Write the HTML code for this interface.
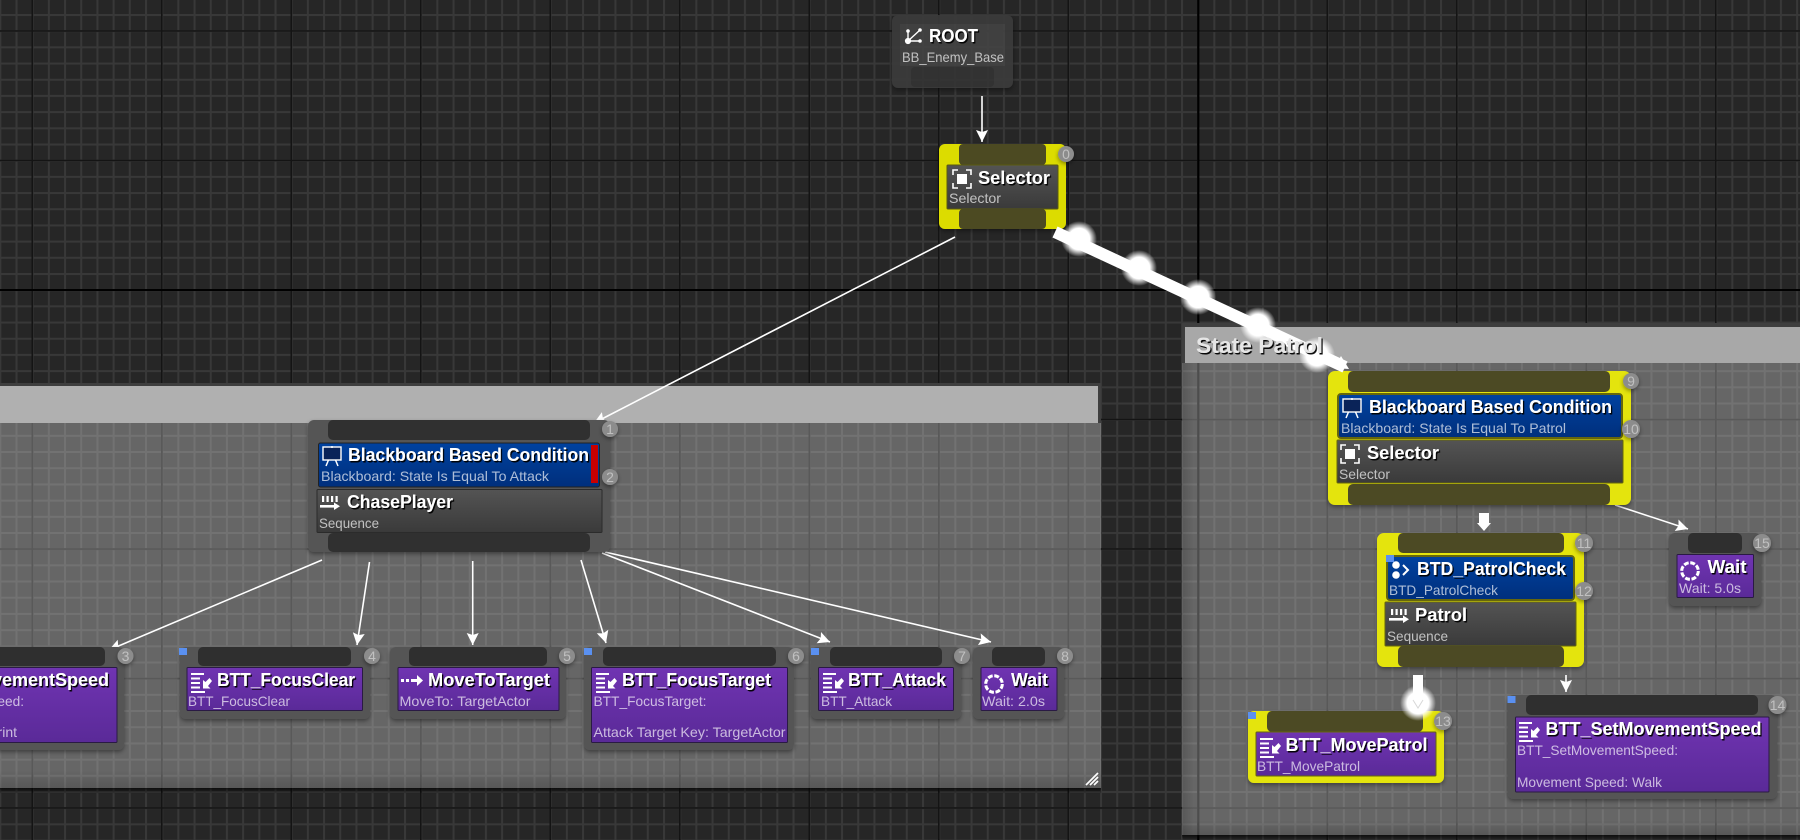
<!DOCTYPE html>
<html><head><meta charset="utf-8"><title>Behavior Tree</title>
<style>
html,body{margin:0;padding:0;background:#262626;width:1800px;height:840px;overflow:hidden}
svg{display:block}
text{font-family:"Liberation Sans",sans-serif}
.t{font-size:18px;font-weight:bold;fill:#fff}
.s{font-size:14px;fill:#fff;fill-opacity:.68}
.b{font-size:14px;fill:#fff;fill-opacity:.45;text-anchor:middle}
</style></head><body>
<svg width="1800" height="840" viewBox="0 0 1800 840" xmlns="http://www.w3.org/2000/svg">
<defs>
<pattern id="minx" x="-0.7" y="0" width="16.1875" height="840" patternUnits="userSpaceOnUse"><rect width="2" height="840" fill="#383838"/></pattern>
<pattern id="miny" x="0" y="-2.2" width="1800" height="16.1875" patternUnits="userSpaceOnUse"><rect width="1800" height="2" fill="#383838"/></pattern>
<pattern id="majx" x="31.5" y="0" width="129.5" height="840" patternUnits="userSpaceOnUse"><rect width="1.6" height="840" fill="#141414"/></pattern>
<pattern id="majy" x="0" y="30.2" width="1800" height="129.5" patternUnits="userSpaceOnUse"><rect width="1800" height="1.6" fill="#141414"/></pattern>
<pattern id="minxL" x="-0.7" y="0" width="16.1875" height="840" patternUnits="userSpaceOnUse"><rect width="2" height="840" fill="#727272"/></pattern>
<pattern id="minyL" x="0" y="-2.2" width="1800" height="16.1875" patternUnits="userSpaceOnUse"><rect width="1800" height="2" fill="#727272"/></pattern>
<pattern id="majxL" x="31.5" y="0" width="129.5" height="840" patternUnits="userSpaceOnUse"><rect width="1.8" height="840" fill="#595959"/></pattern>
<pattern id="majyL" x="0" y="30.2" width="1800" height="129.5" patternUnits="userSpaceOnUse"><rect width="1800" height="1.8" fill="#595959"/></pattern>
<filter id="ts" x="-5%" y="-20%" width="110%" height="150%"><feDropShadow dx="1.3" dy="1.5" stdDeviation="0.2" flood-color="#000" flood-opacity=".95"/></filter>
<filter id="ns" x="-10%" y="-10%" width="120%" height="125%"><feDropShadow dx="0" dy="2" stdDeviation="2" flood-color="#000" flood-opacity=".4"/></filter>
<linearGradient id="pur" x1="0" y1="0" x2="0" y2="1"><stop offset="0" stop-color="#7034b2"/><stop offset="1" stop-color="#5a2a98"/></linearGradient>
<linearGradient id="blu" x1="0" y1="0" x2="0" y2="1"><stop offset="0" stop-color="#0042a0"/><stop offset="1" stop-color="#002f7c"/></linearGradient>
<linearGradient id="gry" x1="0" y1="0" x2="0" y2="1"><stop offset="0" stop-color="#545454"/><stop offset="1" stop-color="#3a3a3a"/></linearGradient>
<linearGradient id="edgeL" x1="0" y1="0" x2="1" y2="0"><stop offset="0" stop-color="#000" stop-opacity=".14"/><stop offset="1" stop-color="#000" stop-opacity="0"/></linearGradient>
<linearGradient id="edgeD" x1="0" y1="0" x2="0" y2="1"><stop offset="0" stop-color="#000" stop-opacity="0"/><stop offset="1" stop-color="#000" stop-opacity=".14"/></linearGradient>
<linearGradient id="shD" x1="0" y1="0" x2="0" y2="1"><stop offset="0" stop-color="#000" stop-opacity=".65"/><stop offset="1" stop-color="#000" stop-opacity="0"/></linearGradient>
<radialGradient id="glow"><stop offset="0" stop-color="#fff"/><stop offset=".6" stop-color="#fff"/><stop offset="1" stop-color="#fff" stop-opacity="0"/></radialGradient>
<marker id="ah" viewBox="-14 -8 16 16" refX="0" refY="0" markerWidth="16" markerHeight="16" orient="auto" markerUnits="userSpaceOnUse"><path d="M0,0 L-12,-6 L-10,0 L-12,6 Z" fill="#fff"/></marker>
<g id="iSel" fill="none" stroke="#fff" stroke-width="1.6"><path d="M1,6V1H6M14,1H19V6M19,14V19H14M6,19H1V14"/><rect x="5" y="5" width="10" height="10" fill="#fff" stroke="none"/></g>
<g id="iSeq" fill="#fff"><rect x="2" y="1" width="2.2" height="6"/><rect x="6.5" y="1" width="2.2" height="6"/><rect x="11" y="1" width="2.2" height="6"/><rect x="15.5" y="1" width="2.2" height="6"/><rect x="0" y="10" width="16" height="2.6"/><path d="M14,7.5L20,11.3L14,15Z"/></g>
<g id="iBB"><rect x="1" y="1" width="18" height="13" fill="#0a2358" stroke="#fff" stroke-width="1.4"/><path d="M4,20L6.5,14M16,20L13.5,14M10,0V2" stroke="#fff" stroke-width="1.5" fill="none"/></g>
<g id="iTask" fill="#fff"><rect x="0" y="0" width="13" height="2"/><rect x="0" y="4.5" width="9" height="2"/><rect x="0" y="9" width="9" height="2"/><rect x="0" y="13.500" width="9" height="2"/><rect x="0" y="18" width="14" height="2"/><path d="M18.5,5L14.500,9L12,7V15.500H19.5L17,13L21,8Z"/></g>
<g id="iWait"><circle cx="10" cy="10" r="8.3" fill="none" stroke="#fff" stroke-width="3" stroke-dasharray="4.9 1.62"/></g>
<g id="iMove" fill="#fff"><rect x="0" y="5" width="3" height="3"/><rect x="5" y="5" width="3" height="3"/><rect x="10" y="5" width="9" height="3"/><path d="M16,1L22,6.5L16,12Z"/></g>
<clipPath id="cL"><rect x="0" y="383" width="1101" height="405"/></clipPath>
<clipPath id="cR"><rect x="1182" y="323" width="618" height="512"/></clipPath>
</defs>

<!-- background grid -->
<rect width="1800" height="840" fill="#262626"/>
<rect width="1800" height="840" fill="url(#minx)"/>
<rect width="1800" height="840" fill="url(#miny)"/>
<rect width="1800" height="840" fill="url(#majx)"/>
<rect width="1800" height="840" fill="url(#majy)"/>
<rect x="1197.4" y="0" width="2" height="840" fill="#000"/>
<rect x="0" y="289" width="1800" height="2" fill="#000"/>

<!-- left comment -->
<rect x="0" y="788" width="1101" height="6" fill="url(#shD)"/>
<g clip-path="url(#cL)">
<rect x="0" y="383" width="1101" height="405" fill="#666"/>
<rect x="0" y="383" width="1800" height="405" fill="url(#minxL)"/>
<rect x="0" y="383" width="1800" height="405" fill="url(#minyL)"/>
<rect x="0" y="383" width="1800" height="405" fill="url(#majxL)"/>
<rect x="0" y="383" width="1800" height="405" fill="url(#majyL)"/>
<rect x="0" y="770" width="1101" height="18" fill="url(#edgeD)"/>
<rect x="0" y="383" width="1101" height="40" fill="#3e3e3e"/>
</g>
<rect x="0" y="386" width="1098" height="37" fill="#b0b0b0"/>
<path d="M1086,785L1098,773M1090,785L1098,777M1094,785L1098,781" stroke="#fff" stroke-width="1.7" fill="none"/>

<!-- right comment -->
<g clip-path="url(#cR)">
<rect x="1182" y="323" width="618" height="512" fill="#666"/>
<rect x="1182" y="323" width="618" height="512" fill="url(#minxL)"/>
<rect x="1182" y="323" width="618" height="512" fill="url(#minyL)"/>
<rect x="1182" y="323" width="618" height="512" fill="url(#majxL)"/>
<rect x="1182" y="323" width="618" height="512" fill="url(#majyL)"/>
<rect x="1197.4" y="323" width="2" height="512" fill="#4d4d4d"/>
<rect x="1182" y="363" width="12" height="472" fill="url(#edgeL)"/>
<rect x="1182" y="820" width="618" height="15" fill="url(#edgeD)"/>
<rect x="1182" y="323" width="618" height="40" fill="#3e3e3e"/>
</g>
<rect x="1185" y="327" width="615" height="36" fill="#a8a8a8"/>
<rect x="1182" y="835" width="618" height="5" fill="url(#shD)"/>

<!-- thin connectors -->
<g stroke="#fff" stroke-width="1.6" fill="none">
<line x1="982" y1="96" x2="982" y2="142" marker-end="url(#ah)"/>
<line x1="955" y1="237" x2="594" y2="423" marker-end="url(#ah)"/>
<line x1="322" y1="560" x2="109" y2="650" marker-end="url(#ah)"/>
<line x1="369.5" y1="562" x2="357" y2="645" marker-end="url(#ah)"/>
<line x1="472.7" y1="561" x2="472.7" y2="645" marker-end="url(#ah)"/>
<line x1="581" y1="560" x2="606" y2="643" marker-end="url(#ah)"/>
<line x1="602" y1="553" x2="830" y2="642" marker-end="url(#ah)"/>
<line x1="605" y1="552" x2="991" y2="642" marker-end="url(#ah)"/>
<line x1="1615" y1="505" x2="1688" y2="529" marker-end="url(#ah)"/>
<line x1="1566" y1="675" x2="1566" y2="692" marker-end="url(#ah)"/>
</g>
<!-- thick connector -->
<rect x="1479" y="513" width="10" height="12" fill="#fff"/><path d="M1477,523H1491L1484,531Z" fill="#fff"/>

<!-- ROOT -->
<g opacity=".92">
<rect x="892" y="15" width="121" height="73" rx="6" fill="#3a3a3a" filter="url(#ns)"/>
<rect x="900" y="24" width="105" height="42" fill="#434343"/>
<rect x="911" y="67" width="83" height="20" rx="4" fill="#343434"/>
</g>
<g fill="#fff" stroke="#fff"><path d="M908,41L908,31M908,41L920,30M908,41L920,41" stroke-width="1.4" fill="none"/><circle cx="908" cy="41" r="2.6"/><circle cx="908" cy="31" r="1.3"/><circle cx="920" cy="30" r="1.3"/><circle cx="920" cy="41" r="1.3"/></g>

<!-- Selector node 0 -->
<rect x="939" y="144" width="127" height="85" rx="6" fill="#dcdc00" filter="url(#ns)"/>
<rect x="959" y="144" width="87" height="21" rx="4" fill="#4c4a22"/>
<rect x="947" y="165" width="111" height="44" rx="1" fill="url(#gry)" stroke="#5a5a10"/>
<rect x="959" y="209" width="87" height="20" rx="4" fill="#4c4a22"/>
<use href="#iSel" transform="translate(952,169)"/>

<!-- Node 1/2 -->
<rect x="308" y="420" width="302" height="132" rx="6" fill="#555" filter="url(#ns)"/>
<rect x="328" y="420" width="262" height="20" rx="5" fill="#303030"/>
<rect x="318.500" y="443" width="281" height="44" rx="2" fill="url(#blu)" stroke="#222"/>
<rect x="591" y="445" width="7" height="38" fill="#c80000"/>
<rect x="317" y="489.500" width="285" height="43" rx="1" fill="url(#gry)" stroke="#2b2b2b"/>
<rect x="328" y="533" width="262" height="19" rx="5" fill="#303030"/>
<use href="#iBB" transform="translate(322,446)"/>
<use href="#iSeq" transform="translate(320,495)"/>

<!-- Node 3 -->
<rect x="-150" y="647" width="274" height="103" rx="6" fill="#555" filter="url(#ns)"/>
<rect x="-130" y="647" width="235" height="19" rx="5" fill="#2f2f2f"/>
<rect x="-138" y="667.500" width="255" height="75" rx="1" fill="url(#pur)" stroke="#2a1a44"/>
<!-- Node 4 -->
<rect x="180" y="647" width="190" height="72" rx="6" fill="#555" filter="url(#ns)"/>
<rect x="198" y="647" width="153" height="19" rx="5" fill="#2f2f2f"/>
<rect x="187" y="667.500" width="175.500" height="43" rx="1" fill="url(#pur)" stroke="#2a1a44"/>
<use href="#iTask" transform="translate(191,673)"/>
<!-- Node 5 -->
<rect x="390" y="647" width="176" height="72" rx="6" fill="#555" filter="url(#ns)"/>
<rect x="409" y="647" width="138" height="19" rx="5" fill="#2f2f2f"/>
<rect x="398" y="667.500" width="161" height="43" rx="1" fill="url(#pur)" stroke="#2a1a44"/>
<use href="#iMove" transform="translate(401,674)"/>
<!-- Node 6 -->
<rect x="584" y="647" width="210" height="103" rx="6" fill="#555" filter="url(#ns)"/>
<rect x="603" y="647" width="173" height="19" rx="5" fill="#2f2f2f"/>
<rect x="591.500" y="667.500" width="196" height="75" rx="1" fill="url(#pur)" stroke="#2a1a44"/>
<use href="#iTask" transform="translate(596,673)"/>
<!-- Node 7 -->
<rect x="811" y="647" width="150" height="72" rx="6" fill="#555" filter="url(#ns)"/>
<rect x="830" y="647" width="112" height="19" rx="5" fill="#2f2f2f"/>
<rect x="818.500" y="667.500" width="135" height="43" rx="1" fill="url(#pur)" stroke="#2a1a44"/>
<use href="#iTask" transform="translate(823,673)"/>
<!-- Node 8 -->
<rect x="973" y="647" width="91" height="72" rx="6" fill="#555" filter="url(#ns)"/>
<rect x="992" y="647" width="53" height="19" rx="5" fill="#2f2f2f"/>
<rect x="981" y="667.500" width="76" height="43" rx="1" fill="url(#pur)" stroke="#2a1a44"/>
<use href="#iWait" transform="translate(984,674)"/>

<!-- Node 9/10 -->
<rect x="1328" y="371" width="303" height="134" rx="7" fill="#e4e40c" filter="url(#ns)"/>
<rect x="1348" y="371" width="262" height="21" rx="5" fill="#4c4a24"/>
<rect x="1338" y="394" width="284" height="44" rx="3" fill="url(#blu)" stroke="#66660c" stroke-width="2"/>
<rect x="1337" y="440" width="286" height="43" rx="1" fill="url(#gry)" stroke="#66660c"/>
<rect x="1348" y="484" width="262" height="21" rx="5" fill="#4c4a24"/>
<use href="#iBB" transform="translate(1342,398)"/>
<use href="#iSel" transform="translate(1340,444)"/>

<!-- Node 11/12 -->
<rect x="1377" y="533" width="207" height="134" rx="7" fill="#e4e40c" filter="url(#ns)"/>
<rect x="1398" y="533" width="166" height="20" rx="5" fill="#4c4a24"/>
<rect x="1387" y="556" width="187" height="44" rx="3" fill="url(#blu)" stroke="#66660c" stroke-width="2"/>
<rect x="1385" y="602" width="191" height="44" rx="1" fill="url(#gry)" stroke="#66660c"/>
<rect x="1398" y="646" width="166" height="21" rx="5" fill="#4c4a24"/>
<g fill="#fff"><circle cx="1396" cy="565" r="3.8"/><circle cx="1396" cy="575" r="3.8"/><path d="M1403,565L1408,570L1403,575" fill="none" stroke="#fff" stroke-width="2"/></g>
<use href="#iSeq" transform="translate(1389,608)"/>

<!-- Node 13 -->
<rect x="1248" y="711" width="196" height="72" rx="6" fill="#e4e40c" filter="url(#ns)"/>
<rect x="1267" y="711" width="156" height="21" rx="5" fill="#4c4a24"/>
<rect x="1256" y="732" width="180" height="44" rx="1" fill="url(#pur)" stroke="#66660c"/>
<use href="#iTask" transform="translate(1260,738)"/>
<!-- thick wire into 13 -->
<rect x="1413" y="675" width="10" height="34" fill="#fff"/>
<circle cx="1418" cy="703" r="18" fill="url(#glow)"/>
<path d="M1413,700L1418,708L1423,700" fill="none" stroke="#d8d8d8" stroke-width="1"/>

<!-- Node 14 -->
<rect x="1507.500" y="695" width="269.500" height="104" rx="6" fill="#555" filter="url(#ns)"/>
<rect x="1526" y="695" width="232" height="20" rx="5" fill="#2f2f2f"/>
<rect x="1515.500" y="717" width="253.500" height="75" rx="1" fill="url(#pur)" stroke="#2a1a44"/>
<use href="#iTask" transform="translate(1519,722)"/>
<!-- Node 15 -->
<rect x="1669" y="533" width="92" height="73" rx="6" fill="#555" filter="url(#ns)"/>
<rect x="1688" y="533" width="54" height="20" rx="5" fill="#2f2f2f"/>
<rect x="1677" y="554.500" width="76.500" height="43" rx="1" fill="url(#pur)" stroke="#2a1a44"/>
<use href="#iWait" transform="translate(1680,561)"/>

<!-- blue markers -->
<g fill="#5a90f0">
<rect x="179" y="648" width="8" height="7"/><rect x="584" y="648" width="8" height="7"/><rect x="811" y="648" width="8" height="7"/>
<rect x="1386" y="555" width="8" height="7"/><rect x="1248" y="712" width="8" height="7"/><rect x="1507.500" y="696" width="8" height="7"/>
</g>

<!-- thick selected wire -->
<line x1="1055" y1="232" x2="1345" y2="367" stroke="#fff" stroke-width="12"/>
<path d="M1349,369L1334,368L1341,356Z" fill="#fff"/>
<circle cx="1079" cy="239" r="18" fill="url(#glow)"/>
<circle cx="1139" cy="268" r="18" fill="url(#glow)"/>
<circle cx="1198" cy="297" r="18" fill="url(#glow)"/>
<circle cx="1258" cy="325" r="18" fill="url(#glow)"/>
<circle cx="1317" cy="355" r="18" fill="url(#glow)"/>

<!-- badges -->
<g fill="#8c8c8c" filter="url(#ns)">
<circle cx="1066" cy="154" r="8"/><circle cx="610" cy="429" r="8"/><circle cx="610" cy="477" r="8"/>
<circle cx="125.500" cy="656" r="8"/><circle cx="372" cy="656" r="8"/><circle cx="567" cy="656" r="8"/><circle cx="796" cy="656" r="8"/><circle cx="962" cy="656" r="8"/><circle cx="1065" cy="656" r="8"/>
<circle cx="1631" cy="381" r="8"/><circle cx="1631" cy="429" r="9"/><circle cx="1584" cy="543" r="9"/><circle cx="1584" cy="591" r="9"/><circle cx="1443" cy="721" r="9"/><circle cx="1777.500" cy="705" r="9"/><circle cx="1762" cy="543" r="9"/>
</g>
<g>
<text class="b" x="1066" y="159">0</text><text class="b" x="610" y="434">1</text><text class="b" x="610" y="482">2</text>
<text class="b" x="125.500" y="661">3</text><text class="b" x="372" y="661">4</text><text class="b" x="567" y="661">5</text><text class="b" x="796" y="661">6</text><text class="b" x="962" y="661">7</text><text class="b" x="1065" y="661">8</text>
<text class="b" x="1631" y="386">9</text><text class="b" x="1631" y="434">10</text><text class="b" x="1584" y="548">11</text><text class="b" x="1584" y="596">12</text><text class="b" x="1443" y="726">13</text><text class="b" x="1777.500" y="710">14</text><text class="b" x="1762" y="548">15</text>
</g>

<!-- titles -->
<g filter="url(#ts)">
<text class="t" x="929" y="42" textLength="49" lengthAdjust="spacingAndGlyphs">ROOT</text>
<text class="t" x="978" y="184" textLength="72" lengthAdjust="spacingAndGlyphs">Selector</text>
<text class="t" x="348" y="461" textLength="241" lengthAdjust="spacingAndGlyphs">Blackboard Based Condition</text>
<text class="t" x="347" y="508" textLength="106" lengthAdjust="spacingAndGlyphs">ChasePlayer</text>
<text class="t" x="-107" y="686" textLength="216" lengthAdjust="spacingAndGlyphs">BTT_SetMovementSpeed</text>
<text class="t" x="217" y="686" textLength="138" lengthAdjust="spacingAndGlyphs">BTT_FocusClear</text>
<text class="t" x="428" y="686" textLength="122" lengthAdjust="spacingAndGlyphs">MoveToTarget</text>
<text class="t" x="622" y="686" textLength="149" lengthAdjust="spacingAndGlyphs">BTT_FocusTarget</text>
<text class="t" x="848" y="686" textLength="98" lengthAdjust="spacingAndGlyphs">BTT_Attack</text>
<text class="t" x="1011" y="686" textLength="37" lengthAdjust="spacingAndGlyphs">Wait</text>
<text class="t" x="1369" y="413" textLength="243" lengthAdjust="spacingAndGlyphs">Blackboard Based Condition</text>
<text class="t" x="1367" y="459" textLength="72" lengthAdjust="spacingAndGlyphs">Selector</text>
<text class="t" x="1417" y="575" textLength="149" lengthAdjust="spacingAndGlyphs">BTD_PatrolCheck</text>
<text class="t" x="1415" y="621" textLength="52" lengthAdjust="spacingAndGlyphs">Patrol</text>
<text class="t" x="1285.500" y="751" textLength="142" lengthAdjust="spacingAndGlyphs">BTT_MovePatrol</text>
<text class="t" x="1545.500" y="735" textLength="216" lengthAdjust="spacingAndGlyphs">BTT_SetMovementSpeed</text>
<text class="t" x="1707.500" y="573" textLength="39" lengthAdjust="spacingAndGlyphs">Wait</text>
<text x="1196" y="353" textLength="127" lengthAdjust="spacingAndGlyphs" font-size="22" font-weight="bold" fill="#e6e6e6">State Patrol</text>
</g>

<!-- subtitles -->
<text class="s" x="902" y="62" textLength="102" lengthAdjust="spacingAndGlyphs">BB_Enemy_Base</text>
<text class="s" x="949" y="203" textLength="52" lengthAdjust="spacingAndGlyphs">Selector</text>
<text class="s" x="321" y="481" textLength="228" lengthAdjust="spacingAndGlyphs">Blackboard: State Is Equal To Attack</text>
<text class="s" x="319" y="528" textLength="60" lengthAdjust="spacingAndGlyphs">Sequence</text>
<text class="s" x="-137" y="706" textLength="161" lengthAdjust="spacingAndGlyphs">BTT_SetMovementSpeed:</text>
<text class="s" x="-137" y="737" textLength="154" lengthAdjust="spacingAndGlyphs">Movement Speed: Sprint</text>
<text class="s" x="188" y="706" textLength="102" lengthAdjust="spacingAndGlyphs">BTT_FocusClear</text>
<text class="s" x="399.500" y="706" textLength="131" lengthAdjust="spacingAndGlyphs">MoveTo: TargetActor</text>
<text class="s" x="593.500" y="706" textLength="113" lengthAdjust="spacingAndGlyphs">BTT_FocusTarget:</text>
<text class="s" x="593.500" y="737" textLength="192" lengthAdjust="spacingAndGlyphs">Attack Target Key: TargetActor</text>
<text class="s" x="821" y="706" textLength="71" lengthAdjust="spacingAndGlyphs">BTT_Attack</text>
<text class="s" x="982" y="706" textLength="63" lengthAdjust="spacingAndGlyphs">Wait: 2.0s</text>
<text class="s" x="1341" y="433" textLength="225" lengthAdjust="spacingAndGlyphs">Blackboard: State Is Equal To Patrol</text>
<text class="s" x="1339" y="479" textLength="51" lengthAdjust="spacingAndGlyphs">Selector</text>
<text class="s" x="1389" y="595" textLength="109" lengthAdjust="spacingAndGlyphs">BTD_PatrolCheck</text>
<text class="s" x="1387" y="641" textLength="61" lengthAdjust="spacingAndGlyphs">Sequence</text>
<text class="s" x="1257" y="771" textLength="103" lengthAdjust="spacingAndGlyphs">BTT_MovePatrol</text>
<text class="s" x="1517" y="755" textLength="161" lengthAdjust="spacingAndGlyphs">BTT_SetMovementSpeed:</text>
<text class="s" x="1517" y="787" textLength="145" lengthAdjust="spacingAndGlyphs">Movement Speed: Walk</text>
<text class="s" x="1679" y="593" textLength="62" lengthAdjust="spacingAndGlyphs">Wait: 5.0s</text>
</svg>
</body></html>
